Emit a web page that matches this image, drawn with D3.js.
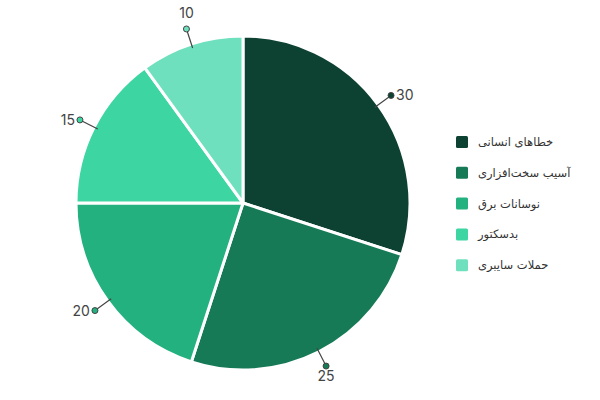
<!DOCTYPE html>
<html>
<head>
<meta charset="utf-8">
<script src="https://cdn.jsdelivr.net/npm/d3@7"></script>
<style>
  body { margin: 0; background: #fff; }
  svg { display: block; }
</style>
</head>
<body>
<svg id="chart" width="600" height="400"></svg>
<script>
const categories = ["خطاهای انسانی", "آسیب سخت‌افزاری", "نوسانات برق", "بدسکتور", "حملات سایبری"];
const values = [30, 25, 20, 15, 10];
const colors = ["#0d4232", "#177a57", "#22b17f", "#3dd6a3", "#6fe0bd"];

const width = 600, height = 400;
const cx = 243, cy = 203, radius = 167;

const svg = d3.select("#chart");
const data = categories.map((c, i) => ({ name: c, value: values[i], color: colors[i] }));

const pie = d3.pie().sort(null).value(d => d.value);
const arc = d3.arc().innerRadius(0).outerRadius(radius);
const arcs = pie(data);

const g = svg.append("g").attr("transform", `translate(${cx},${cy})`);

g.selectAll("path")
  .data(arcs)
  .join("path")
  .attr("d", arc)
  .attr("fill", d => d.data.color)
  .attr("stroke", "#fff")
  .attr("stroke-width", 3)
  .attr("stroke-linejoin", "round");

// labels: short leader line, dot, value
const lineStart = d3.arc().innerRadius(radius - 4).outerRadius(radius - 4);
const dotArc = d3.arc().innerRadius(radius + 16).outerRadius(radius + 16);

const label = g.selectAll("g.label")
  .data(arcs)
  .join("g")
  .attr("class", "label");

label.append("line")
  .attr("x1", d => lineStart.centroid(d)[0])
  .attr("y1", d => lineStart.centroid(d)[1])
  .attr("x2", d => dotArc.centroid(d)[0])
  .attr("y2", d => dotArc.centroid(d)[1])
  .attr("stroke", "#444")
  .attr("stroke-width", 1.2);

label.append("circle")
  .attr("cx", d => dotArc.centroid(d)[0])
  .attr("cy", d => dotArc.centroid(d)[1])
  .attr("r", 3)
  .attr("fill", d => d.data.color)
  .attr("stroke", "#444")
  .attr("stroke-width", 1);

label.append("text")
  .each(function (d) {
    const [x, y] = dotArc.centroid(d);
    const a = (d.startAngle + d.endAngle) / 2;
    const s = Math.sin(a), c = Math.cos(a);
    const t = d3.select(this);
    if (Math.abs(c) > 0.88) {
      // near top or bottom: above/below the dot
      t.attr("x", x).attr("y", c > 0 ? y - 11 : y + 15).attr("text-anchor", "middle");
    } else {
      t.attr("x", s > 0 ? x + 5 : x - 5).attr("y", y + 5)
        .attr("text-anchor", s > 0 ? "start" : "end");
    }
  })
  .attr("font-family", "Inter, 'DejaVu Sans', sans-serif")
  .attr("font-size", 14)
  .attr("fill", "#444")
  .text(d => d.data.value);

// legend
const legend = svg.append("g").attr("transform", "translate(456,142)");
const row = legend.selectAll("g")
  .data(data)
  .join("g")
  .attr("transform", (d, i) => `translate(0,${i * 30.8})`);

row.append("rect")
  .attr("x", 0).attr("y", -6)
  .attr("width", 12).attr("height", 12)
  .attr("rx", 1.5)
  .attr("fill", d => d.color);

row.append("text")
  .attr("x", 22).attr("y", 4)
  .attr("font-family", "'DejaVu Sans', sans-serif")
  .attr("font-size", 11.5)
  .attr("fill", "#333")
  .text(d => d.name);
</script>
</body>
</html>
